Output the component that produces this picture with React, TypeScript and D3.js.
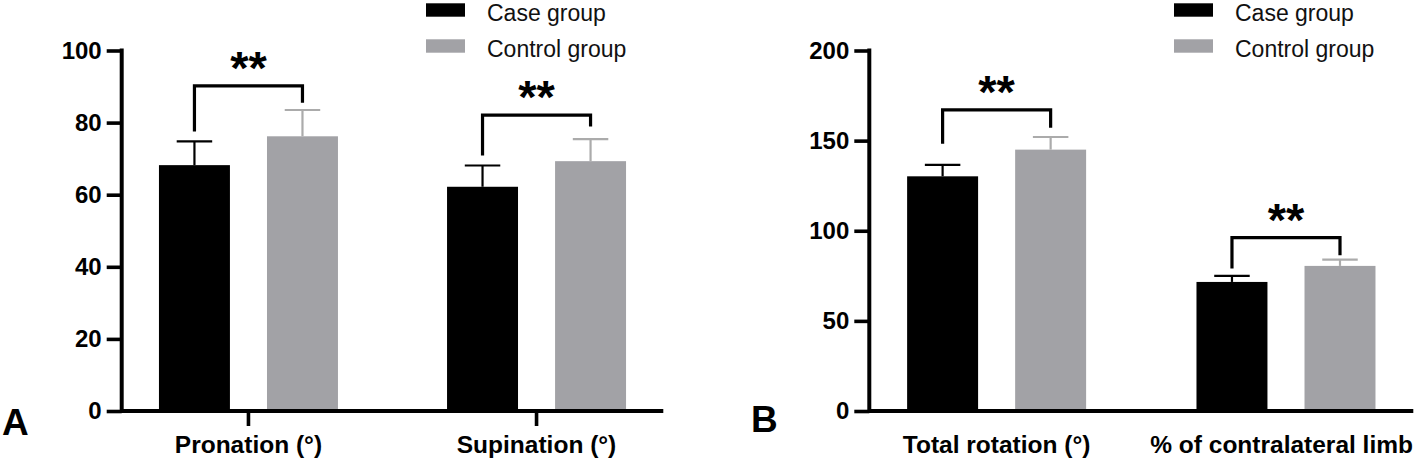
import React, { useRef, useEffect } from "react";
import * as d3 from "d3";

// Panel A: forearm pronation / supination
const panelACategories = ["Pronation (°)", "Supination (°)"];
const panelACaseMeans = [68.2, 62.2];
const panelACaseSD = [6.6, 5.9];
const panelAControlMeans = [76.2, 69.3];
const panelAControlSD = [7.3, 6.1];
const panelATicks = [0, 20, 40, 60, 80, 100];
const panelABracketTop = [90.2, 82.1];
const panelABracketLeft = [77.5, 70.9];
const panelABracketRight = [85.5, 78.9];

// Panel B: total rotation and % of contralateral limb
const panelBCategories = ["Total rotation (°)", "% of contralateral limb"];
const panelBCaseMeans = [130.2, 71.6];
const panelBCaseSD = [6.3, 3.4];
const panelBControlMeans = [145.0, 80.5];
const panelBControlSD = [7.0, 3.5];
const panelBTicks = [0, 50, 100, 150, 200];
const panelBBracketTop = [167.1, 96.2];
const panelBBracketLeft = [148.3, 79.1];
const panelBBracketRight = [157.2, 86.4];

const groups = ["Case group", "Control group"];
const sigLabel = "**";

const WIDTH = 1418;
const HEIGHT = 461;
const FONT = "'Liberation Sans', Arial, Helvetica, sans-serif";
const CASE_COLOR = "#000000";
const CONTROL_COLOR = "#a2a2a6";
const CONTROL_ERR = "#ababab";

type Panel = {
    letter: string;
    letterX: number;
    letterY: number;
    axisX: number;
    xEnd: number;
    categories: string[];
    caseMeans: number[];
    caseSD: number[];
    controlMeans: number[];
    controlSD: number[];
    ticks: number[];
    bracketTop: number[];
    bracketLeft: number[];
    bracketRight: number[];
    categoryTicks: boolean;
    legendX: number;
};

const panels: Panel[] = [
    {
        letter: "A", letterX: 2, letterY: 435, axisX: 121.7, xEnd: 663.3,
        categories: panelACategories, caseMeans: panelACaseMeans, caseSD: panelACaseSD,
        controlMeans: panelAControlMeans, controlSD: panelAControlSD, ticks: panelATicks,
        bracketTop: panelABracketTop, bracketLeft: panelABracketLeft, bracketRight: panelABracketRight,
        categoryTicks: true, legendX: 426,
    },
    {
        letter: "B", letterX: 751, letterY: 432, axisX: 869.3, xEnd: 1413.3,
        categories: panelBCategories, caseMeans: panelBCaseMeans, caseSD: panelBCaseSD,
        controlMeans: panelBControlMeans, controlSD: panelBControlSD, ticks: panelBTicks,
        bracketTop: panelBBracketTop, bracketLeft: panelBBracketLeft, bracketRight: panelBBracketRight,
        categoryTicks: false, legendX: 1174,
    },
];

const drawPanel = (svg: d3.Selection<SVGSVGElement, unknown, null, undefined>, p: Panel) => {
    const baseline = 411;
    const top = 50.5;

    const y = d3.scaleLinear()
        .domain([0, d3.max(p.ticks) as number])
        .range([baseline, top]);

    const x = d3.scalePoint<string>()
        .domain(p.categories)
        .range([p.axisX, p.xEnd])
        .padding(0.44);

    const sub = d3.scaleBand<string>()
        .domain(groups)
        .range([-89.5, 89.5])
        .paddingInner(0.343)
        .paddingOuter(0);

    const g = svg.append("g");

    // bars
    p.categories.forEach((cat, i) => {
        const cx = x(cat) as number;
        const rows = [
            { key: groups[0], mean: p.caseMeans[i], sd: p.caseSD[i], fill: CASE_COLOR, err: CASE_COLOR },
            { key: groups[1], mean: p.controlMeans[i], sd: p.controlSD[i], fill: CONTROL_COLOR, err: CONTROL_ERR },
        ];
        rows.forEach(r => {
            const bx = cx + (sub(r.key) as number);
            const bw = sub.bandwidth();
            const mid = bx + bw / 2;
            g.append("rect")
                .attr("x", bx)
                .attr("y", y(r.mean))
                .attr("width", bw)
                .attr("height", y(0) - y(r.mean))
                .attr("fill", r.fill);
            g.append("line")
                .attr("x1", mid).attr("x2", mid)
                .attr("y1", y(r.mean)).attr("y2", y(r.mean + r.sd))
                .attr("stroke", r.err).attr("stroke-width", 2.2);
            g.append("line")
                .attr("x1", mid - bw / 4).attr("x2", mid + bw / 4)
                .attr("y1", y(r.mean + r.sd)).attr("y2", y(r.mean + r.sd))
                .attr("stroke", r.err).attr("stroke-width", 2.2);
        });

        // significance bracket
        const lx = cx + (sub(groups[0]) as number) + sub.bandwidth() / 2;
        const rx = cx + (sub(groups[1]) as number) + sub.bandwidth() / 2;
        const by = y(p.bracketTop[i]);
        g.append("path")
            .attr("d", `M${lx},${y(p.bracketLeft[i])}V${by}H${rx}V${y(p.bracketRight[i])}`)
            .attr("fill", "none")
            .attr("stroke", "#000")
            .attr("stroke-width", 3.2);
        g.append("text")
            .attr("x", (lx + rx) / 2)
            .attr("y", by - 2)
            .attr("text-anchor", "middle")
            .style("font-family", FONT)
            .style("font-weight", "bold")
            .style("font-size", "47px")
            .text(sigLabel);
    });

    // y axis
    const yAxis = d3.axisLeft(y)
        .tickValues(p.ticks)
        .tickSize(15)
        .tickSizeOuter(0)
        .tickPadding(5)
        .tickFormat(d3.format("d"));
    const ya = g.append("g")
        .attr("transform", `translate(${p.axisX},0)`)
        .call(yAxis);
    ya.select(".domain")
        .attr("stroke-width", 4)
        .attr("d", `M0,${baseline + 2}V${top - 2}`);
    ya.selectAll(".tick line").attr("stroke-width", 3.6);
    ya.selectAll(".tick text")
        .attr("fill", "#000")
        .style("font-family", FONT)
        .style("font-weight", "bold")
        .style("font-size", "24px");

    // x axis line
    g.append("line")
        .attr("x1", p.axisX).attr("x2", p.xEnd)
        .attr("y1", baseline).attr("y2", baseline)
        .attr("stroke", "#000")
        .attr("stroke-width", 4);

    p.categories.forEach(cat => {
        const cx = x(cat) as number;
        if (p.categoryTicks) {
            g.append("line")
                .attr("x1", cx).attr("x2", cx)
                .attr("y1", baseline).attr("y2", baseline + 15)
                .attr("stroke", "#000")
                .attr("stroke-width", 3.6);
        }
        const label = g.append("text")
            .attr("x", cx)
            .attr("y", 453)
            .attr("text-anchor", "middle")
            .style("font-family", FONT)
            .style("font-weight", "bold")
            .style("font-size", "24.5px")
            .text(cat);
        // keep long labels inside the picture
        const w = (label.node() as SVGTextElement).getComputedTextLength();
        if (cx + w / 2 > WIDTH - 5) label.attr("x", WIDTH - 5 - w / 2);
    });

    // panel letter
    g.append("text")
        .attr("x", p.letterX)
        .attr("y", p.letterY)
        .style("font-family", FONT)
        .style("font-weight", "bold")
        .style("font-size", "37px")
        .text(p.letter);

    // legend
    const legendColors = [CASE_COLOR, CONTROL_COLOR];
    groups.forEach((name, i) => {
        g.append("rect")
            .attr("x", p.legendX)
            .attr("y", 3.3 + i * 36)
            .attr("width", 39)
            .attr("height", 13.4)
            .attr("fill", legendColors[i]);
        g.append("text")
            .attr("x", p.legendX + 61)
            .attr("y", 21 + i * 36)
            .attr("fill", "#111")
            .style("font-family", FONT)
            .style("font-size", "23px")
            .text(name);
    });
};

const App = () => {
    const svgRef = useRef<SVGSVGElement | null>(null);

    useEffect(() => {
        if (!svgRef.current) return;
        const svg = d3.select(svgRef.current);
        svg.selectAll("*").remove();
        panels.forEach(p => drawPanel(svg, p));
    }, []);

    return (
        <svg
            ref={svgRef}
            width={WIDTH}
            height={HEIGHT}
            viewBox={`0 0 ${WIDTH} ${HEIGHT}`}
            style={{ position: "absolute", left: 0, top: 0, background: "#ffffff", display: "block" }}
        />
    );
};

export default App;
